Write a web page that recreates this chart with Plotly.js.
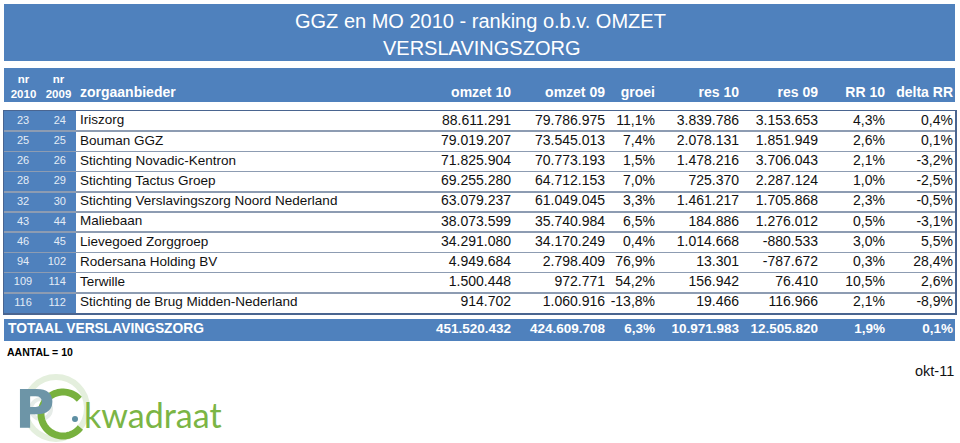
<!DOCTYPE html>
<html>
<head>
<meta charset="utf-8">
<script src="https://cdn.plot.ly/plotly-3.0.1.min.js"></script>
<style>html,body{margin:0;padding:0;background:#fff;}#chart{width:960px;height:443px;}</style>
</head>
<body>
<div id="chart"></div>
<script>
// ---------- data ----------
const nr2010 = [23, 25, 26, 28, 32, 43, 46, 94, 109, 116];
const nr2009 = [24, 25, 26, 29, 30, 44, 45, 102, 114, 112];
const zorgaanbieder = ["Iriszorg", "Bouman GGZ", "Stichting Novadic-Kentron", "Stichting Tactus Groep",
  "Stichting Verslavingszorg Noord Nederland", "Maliebaan", "Lievegoed Zorggroep",
  "Rodersana Holding BV", "Terwille", "Stichting de Brug Midden-Nederland"];
const omzet10 = [88611291, 79019207, 71825904, 69255280, 63079237, 38073599, 34291080, 4949684, 1500448, 914702];
const omzet09 = [79786975, 73545013, 70773193, 64712153, 61049045, 35740984, 34170249, 2798409, 972771, 1060916];
const groei = [11.1, 7.4, 1.5, 7.0, 3.3, 6.5, 0.4, 76.9, 54.2, -13.8];
const res10 = [3839786, 2078131, 1478216, 725370, 1461217, 184886, 1014668, 13301, 156942, 19466];
const res09 = [3153653, 1851949, 3706043, 2287124, 1705868, 1276012, -880533, -787672, 76410, 116966];
const rr10 = [4.3, 2.6, 2.1, 1.0, 2.3, 0.5, 3.0, 0.3, 10.5, 2.1];
const deltaRR = [0.4, 0.1, -3.2, -2.5, -0.5, -3.1, 5.5, 28.4, 2.6, -8.9];

const totaalLabel = "TOTAAL VERSLAVINGSZORG";
const totaalOmzet10 = 451520432;
const totaalOmzet09 = 424609708;
const totaalGroei = 6.3;
const totaalRes10 = 10971983;
const totaalRes09 = 12505820;
const totaalRR10 = 1.9;
const totaalDeltaRR = 0.1;

const headerNumCols = ["omzet 10", "omzet 09", "groei", "res 10", "res 09", "RR 10", "delta RR"];
const headerNr = ["nr<br>2010", "nr<br>2009"];
const headerName = "zorgaanbieder";
const titleLines = ["GGZ en MO 2010 - ranking o.b.v. OMZET", "VERSLAVINGSZORG"];
const aantalText = "AANTAL = 10";
const dateText = "okt-11";

// ---------- layout constants ----------
const W = 960, H = 443;
const BLUE = "#4F81BD";
const FONT = "Liberation Sans, Arial, sans-serif";
const tableTop = 111, tableBottom = 313, tableLeft = 4, tableRight = 955;
const numAnchors = [511, 605, 655, 739, 818, 885, 953];   // right edges of numeric columns
const nr2010X = 23, nr2009X = 66, nameX = 80;
const headerY = 93, totalY = 330;

// ---------- formatting ----------
function nl(n) {
  const s = Math.abs(Math.round(n)).toString().replace(/\B(?=(\d{3})+(?!\d))/g, ".");
  return (n < 0 ? "-" : "") + s;
}
function pct(v) { return v.toFixed(1).replace(".", ",") + "%"; }

const rowIdx = zorgaanbieder.map((_, i) => i);
const numCols = [omzet10.map(nl), omzet09.map(nl), groei.map(pct), res10.map(nl), res09.map(nl), rr10.map(pct), deltaRR.map(pct)];
const totals = [nl(totaalOmzet10), nl(totaalOmzet09), pct(totaalGroei), nl(totaalRes10), nl(totaalRes09), pct(totaalRR10), pct(totaalDeltaRR)];

const traces = [];
const numFont = {family: FONT, size: 14, color: "#111"};
const nameFont = {family: FONT, size: 13.5, color: "#111"};
const nrFont = {family: FONT, size: 11, color: "#E4ECF6"};
const hdrFont = {family: FONT, size: 14, color: "#fff", weight: "bold"};

function textTrace(x, y, text, pos, font, onPixel) {
  const t = {type: "scatter", mode: "text", x: x, y: y, text: text, textposition: pos,
    textfont: font, hoverinfo: "skip", showlegend: false, cliponaxis: false};
  if (onPixel) { t.xaxis = "x2"; t.yaxis = "y2"; }
  return t;
}

// nr columns
traces.push(textTrace(rowIdx.map(() => nr2010X), rowIdx, nr2010.map(String), "middle center", nrFont));
traces.push(textTrace(rowIdx.map(() => nr2009X), rowIdx, nr2009.map(String), "middle left", nrFont));
// names
traces.push(textTrace(rowIdx.map(() => nameX), rowIdx, zorgaanbieder, "middle right", nameFont));
// numeric columns
numCols.forEach((col, c) => {
  traces.push(textTrace(rowIdx.map(() => numAnchors[c]), rowIdx, col, "middle left", numFont));
});

// header row (pixel subplot)
traces.push(textTrace(numAnchors, numAnchors.map(() => headerY), headerNumCols, "middle left", hdrFont, true));
traces.push(textTrace([nameX], [headerY], [headerName], "middle right", hdrFont, true));
traces.push(textTrace([23.5, 58.5], [88, 88], headerNr, "middle center",
  {family: FONT, size: 11.5, color: "#fff", weight: "bold"}, true));

// totals row
traces.push(textTrace(numAnchors, numAnchors.map(() => totalY), totals, "middle left",
  {family: FONT, size: 13.5, color: "#fff", weight: "bold"}, true));
traces.push(textTrace([8], [totalY], [totaalLabel], "middle right",
  {family: FONT, size: 13.8, color: "#fff", weight: "bold"}, true));

const gridVals = rowIdx.slice(1).map(i => i - 0.5);

// logo "C" as an open arc (decoration)
function arcPath(cx, cy, r, a0, a1, n) {
  let d = "";
  for (let k = 0; k <= n; k++) {
    const a = (a0 + (a1 - a0) * k / n) * Math.PI / 180;
    const px = cx + r * Math.cos(a), py = cy - r * Math.sin(a);
    d += (k === 0 ? "M " : " L ") + px.toFixed(2) + "," + py.toFixed(2);
  }
  return d;
}

const layout = {
  width: W, height: H, autosize: false,
  margin: {l: 0, r: 0, t: 0, b: 0, pad: 0},
  paper_bgcolor: "#fff", plot_bgcolor: "rgba(0,0,0,0)",
  showlegend: false,
  xaxis: {domain: [tableLeft / W, tableRight / W], range: [tableLeft, tableRight], showgrid: false, zeroline: false,
    showticklabels: false, ticks: "", showline: true, mirror: true, linecolor: "#4A6590", linewidth: 1.5, fixedrange: true},
  yaxis: {domain: [1 - tableBottom / H, 1 - tableTop / H], range: [9.5, -0.5], tickvals: gridVals, showgrid: true,
    gridcolor: "#8D9CB2", gridwidth: 1.6, zeroline: false, showticklabels: false, ticks: "",
    showline: true, mirror: true, linecolor: "#4A6590", linewidth: 1.5, fixedrange: true},
  xaxis2: {domain: [0, 1], range: [0, W], visible: false, fixedrange: true, anchor: "y2"},
  yaxis2: {domain: [0, 1], range: [H, 0], visible: false, fixedrange: true, anchor: "x2"},
  shapes: [
    // title band
    {type: "rect", xref: "x2", yref: "y2", x0: 4, x1: 955, y0: 4, y1: 61, fillcolor: BLUE, line: {width: 0}, layer: "below"},
    // header band
    {type: "rect", xref: "x2", yref: "y2", x0: 4, x1: 955, y0: 68, y1: 102, fillcolor: BLUE, line: {width: 0}, layer: "below"},
    // nr columns fill
    {type: "rect", xref: "x", yref: "y domain", x0: 4, x1: 76, y0: 0, y1: 1, fillcolor: BLUE, line: {width: 0}, layer: "below"},
    // totals band
    {type: "rect", xref: "x2", yref: "y2", x0: 4, x1: 955, y0: 319, y1: 341, fillcolor: BLUE, line: {width: 0}, layer: "below"},
    // logo rings
    {type: "circle", xref: "x2", yref: "y2", x0: 25, x1: 87, y0: 377, y1: 439, line: {color: "#E4EFDD", width: 6}, layer: "below"},
    {type: "circle", xref: "x2", yref: "y2", x0: 31, x1: 51, y0: 399, y1: 419, line: {color: "#E6ECE8", width: 4}, layer: "below"},
    // logo C
    {type: "path", xref: "x2", yref: "y2", path: arcPath(63, 414, 22, 42, 322, 60), line: {color: "#78B13E", width: 7}, layer: "above"},
    // logo dot
    {type: "circle", xref: "x2", yref: "y2", x0: 72, x1: 78, y0: 416, y1: 422, fillcolor: "#5E8FA3", line: {width: 0}, layer: "above"}
  ],
  annotations: [
    {xref: "x2", yref: "y2", x: 480, y: 21, text: titleLines[0], showarrow: false, xanchor: "center", yanchor: "middle",
      font: {family: FONT, size: 20, color: "#fff"}},
    {xref: "x2", yref: "y2", x: 481, y: 48, text: titleLines[1], showarrow: false, xanchor: "center", yanchor: "middle",
      font: {family: FONT, size: 20, color: "#fff"}},
    {xref: "x2", yref: "y2", x: 5, y: 352, text: aantalText, showarrow: false, xanchor: "left", yanchor: "middle",
      font: {family: FONT, size: 10.5, color: "#000", weight: "bold"}},
    {xref: "x2", yref: "y2", x: 956, y: 371, text: dateText, showarrow: false, xanchor: "right", yanchor: "middle",
      font: {family: FONT, size: 14.5, color: "#111"}},
    // logo
    {xref: "x2", yref: "y2", x: 35, y: 443, text: "P", showarrow: false, xanchor: "center", yanchor: "bottom",
      font: {family: "DejaVu Sans", size: 54, color: "#6D95A7", weight: "bold"}},
    {xref: "x2", yref: "y2", x: 82, y: 414, text: "kwadraat", showarrow: false, xanchor: "left", yanchor: "middle",
      font: {family: "Lato, sans-serif", size: 34, color: "#7BB545"}}
  ]
};

Plotly.newPlot("chart", traces, layout, {staticPlot: true, displayModeBar: false});
</script>
</body>
</html>
